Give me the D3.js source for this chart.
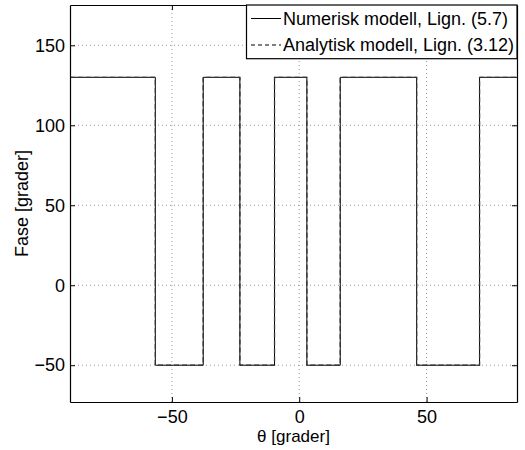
<!DOCTYPE html>
<html lang="no">
  <head>
    <meta charset="utf-8" />
    <title>Fase</title>
    <style>
      html, body { margin: 0; padding: 0; background: #fff; }
      svg { display: block; font-family: 'Liberation Sans', Arial, sans-serif; }
      .grid line { stroke: #999; stroke-width: 1; stroke-dasharray: 1, 3; }
    </style>
  </head>
  <body>
    <svg></svg>
    <script src="https://d3js.org/d3.v7.min.js"></script>
    <script>
      let width = 525,
        height = 450

      // Data
      const thetaLim = [-90, 85.5]
      const faseLim = [-73, 175.2]
      const xTicks = [-50, 0, 50]
      const yTicks = [-50, 0, 50, 100, 150]

      // switching angles (edges) and phase level on each interval
      const numTheta = [-90, -56.5, -37.7, -23.3, -9.7, 3.0, 16.1, 46.1, 70.8, 85.5]
      const numFase = [130, -50, 130, -50, 130, -50, 130, -50, 130]
      const anaTheta = [-90, -56.5, -37.7, -23.3, -9.7, 3.0, 16.1, 46.1, 70.8, 85.5]
      const anaFase = [130, -50, 130, -50, 130, -50, 130, -50, 130]

      const legendLabels = ['Numerisk modell, Lign. (5.7)', 'Analytisk modell, Lign. (3.12)']

      const margin = { left: 70, right: 8, top: 5, bottom: 48 }

      let svg = d3.select('svg').attr('width', width).attr('height', height)
      svg.append('rect').attr('width', width).attr('height', height).attr('fill', '#fff')

      let x = d3.scaleLinear().domain(thetaLim).range([margin.left, width - margin.right])
      let y = d3.scaleLinear().domain(faseLim).range([height - margin.bottom, margin.top])

      const fmt = (d) => (d < 0 ? '\u2212' + Math.abs(d) : '' + d)

      // grid
      let grid = svg.append('g').attr('class', 'grid')
      grid.selectAll('.gx')
        .data(xTicks)
        .join('line')
        .attr('x1', (d) => x(d)).attr('x2', (d) => x(d))
        .attr('y1', y.range()[0]).attr('y2', y.range()[1])
      grid.selectAll('.gy')
        .data(yTicks)
        .join('line')
        .attr('y1', (d) => y(d)).attr('y2', (d) => y(d))
        .attr('x1', x.range()[0]).attr('x2', x.range()[1])

      // step series -> points
      function steps(theta, fase) {
        let pts = fase.map((f, i) => [theta[i], f])
        pts.push([theta[theta.length - 1], fase[fase.length - 1]])
        return pts
      }

      let line = d3.line()
        .x((d) => x(d[0]))
        .y((d) => y(d[1]))
        .curve(d3.curveStepAfter)

      svg.append('path')
        .attr('d', line(steps(numTheta, numFase)))
        .attr('fill', 'none')
        .attr('stroke', '#000')
        .attr('stroke-width', 1)

      svg.append('path')
        .attr('d', line(steps(anaTheta, anaFase)))
        .attr('fill', 'none')
        .attr('stroke', '#333')
        .attr('stroke-width', 1.3)
        .attr('stroke-dasharray', '5,3')

      // axes (box with inward ticks)
      let ax = svg.append('g')
      ax.append('g')
        .attr('transform', `translate(0,${y.range()[0]})`)
        .call(d3.axisBottom(x).tickValues(xTicks).tickSizeInner(-5).tickSizeOuter(0).tickPadding(8).tickFormat(fmt))
      ax.append('g')
        .attr('transform', `translate(0,${y.range()[1]})`)
        .call(d3.axisTop(x).tickValues(xTicks).tickSizeInner(-5).tickSizeOuter(0).tickFormat(''))
      ax.append('g')
        .attr('transform', `translate(${x.range()[0]},0)`)
        .call(d3.axisLeft(y).tickValues(yTicks).tickSizeInner(-5).tickSizeOuter(0).tickPadding(5).tickFormat(fmt))
      ax.append('g')
        .attr('transform', `translate(${x.range()[1]},0)`)
        .call(d3.axisRight(y).tickValues(yTicks).tickSizeInner(-5).tickSizeOuter(0).tickFormat(''))
      ax.selectAll('.domain').attr('stroke', '#000').attr('stroke-width', 1.2)
      ax.selectAll('.tick line').attr('stroke', '#000')
      ax.selectAll('text').attr('font-size', 18).attr('font-family', 'Liberation Sans, Arial, sans-serif').attr('fill', '#000')

      // axis labels
      svg.append('text')
        .attr('x', (x.range()[0] + x.range()[1]) / 2)
        .attr('y', 442)
        .attr('text-anchor', 'middle')
        .attr('font-size', 17)
        .text('\u03b8 [grader]')

      svg.append('text')
        .attr('transform', `translate(27.5,${(y.range()[0] + y.range()[1]) / 2}) rotate(-90)`)
        .attr('text-anchor', 'middle')
        .attr('font-size', 18)
        .text('Fase [grader]')

      // legend
      let lg = svg.append('g')
      let lx0 = 246.5, lx1 = x.range()[1], ly0 = y.range()[1], ly1 = 58.7
      lg.append('rect')
        .attr('x', lx0).attr('y', ly0)
        .attr('width', lx1 - lx0).attr('height', ly1 - ly0)
        .attr('fill', '#fff').attr('stroke', '#000').attr('stroke-width', 1.2)

      let rows = [
        { label: legendLabels[0], dash: null, cy: 18.5 },
        { label: legendLabels[1], dash: '4,3', cy: 45 },
      ]
      rows.forEach((r) => {
        lg.append('line')
          .attr('x1', 251).attr('x2', 281)
          .attr('y1', r.cy).attr('y2', r.cy)
          .attr('stroke', '#000').attr('stroke-width', 1)
          .attr('stroke-dasharray', r.dash)
        lg.append('text')
          .attr('x', 283).attr('y', r.cy)
          .attr('dy', '0.35em')
          .attr('font-size', 18)
          .text(r.label)
      })
    </script>
  </body>
</html>
